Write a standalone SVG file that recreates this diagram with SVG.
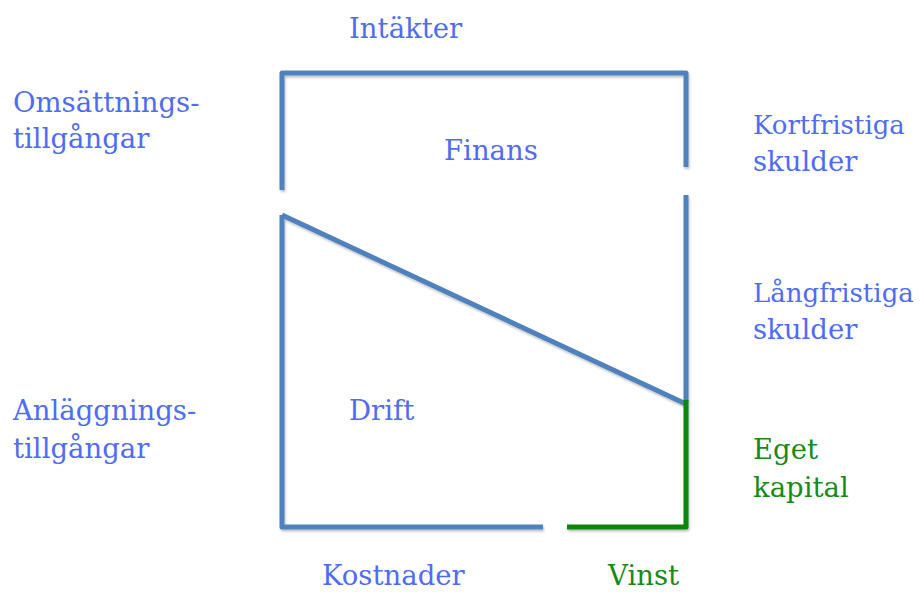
<svg xmlns="http://www.w3.org/2000/svg" width="920" height="592" viewBox="0 0 920 592">
  <style>
    .lbl { font-family: "DejaVu Serif", "Liberation Serif", serif; font-size: 27.5px; fill: #4f6cf5; }
    .narrow { font-size: 26px; }
    .eq { fill: #178a17; }
    .blue { fill: none; stroke: #4f81bd; stroke-width: 5; stroke-linejoin: round; }
    .green { fill: none; stroke: #0a860a; stroke-width: 5; stroke-linejoin: round; }
  </style>
  <defs>
    <filter id="shadow" x="-5%" y="-5%" width="110%" height="110%">
      <feDropShadow dx="1" dy="2" stdDeviation="1.2" flood-color="#000" flood-opacity="0.25"/>
    </filter>
  </defs>
  <rect width="920" height="592" fill="#fff"/>

  <g id="connectors" filter="url(#shadow)">
    <polyline class="blue" points="282,190 282,73 686,73 686,167"/>
    <line class="blue" x1="686" y1="195" x2="686" y2="402"/>
    <line class="blue" x1="282" y1="215" x2="686" y2="404"/>
    <polyline class="blue" points="282,215 282,527 543,527"/>
    <polyline class="green" points="567,527 686,527 686,400"/>
  </g>

  <g id="intakter"><text class="lbl" x="349" y="38">Intäkter</text></g>
  <g id="omsattningstillgangar">
    <text class="lbl" x="13" y="112">Omsättnings-</text>
    <text class="lbl" x="13" y="148">tillgångar</text>
  </g>
  <g id="finans"><text class="lbl" x="444" y="160">Finans</text></g>
  <g id="kortfristiga">
    <text class="lbl narrow" x="753" y="134">Kortfristiga</text>
    <text class="lbl" x="753" y="171">skulder</text>
  </g>
  <g id="langfristiga">
    <text class="lbl narrow" x="753" y="302">Långfristiga</text>
    <text class="lbl" x="753" y="339">skulder</text>
  </g>
  <g id="anlaggningstillgangar">
    <text class="lbl" x="13" y="420">Anläggnings-</text>
    <text class="lbl" x="13" y="458">tillgångar</text>
  </g>
  <g id="drift"><text class="lbl" x="349" y="420">Drift</text></g>
  <g id="eget-kapital">
    <text class="lbl eq" x="753" y="459">Eget</text>
    <text class="lbl eq" x="753" y="497">kapital</text>
  </g>
  <g id="kostnader"><text class="lbl" x="322" y="585">Kostnader</text></g>
  <g id="vinst"><text class="lbl eq" x="608" y="585">Vinst</text></g>
</svg>
